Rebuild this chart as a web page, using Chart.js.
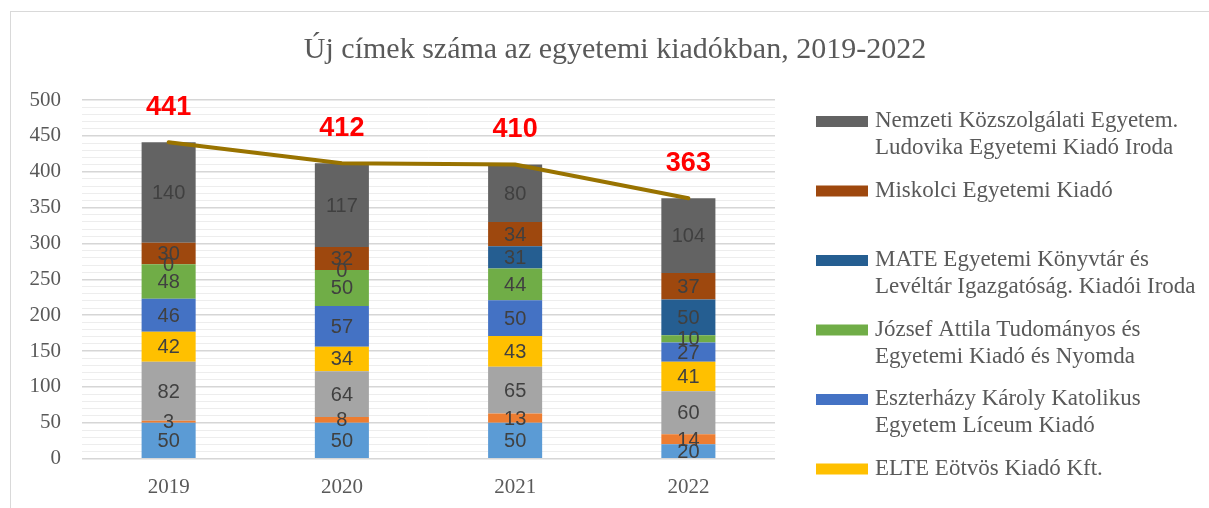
<!DOCTYPE html>
<html><head><meta charset="utf-8">
<script src="https://cdn.jsdelivr.net/npm/chart.js@4"></script>
<style>html,body{margin:0;padding:0;background:#fff}#wrap{position:relative;width:1209px;height:508px}</style>
</head><body><div id="wrap"><canvas id="c" width="1209" height="508"></canvas></div>
<script>
const chartTitle = 'Új címek száma az egyetemi kiadókban, 2019-2022';
const years = ['2019', '2020', '2021', '2022'];
const yTickLabels = [0, 50, 100, 150, 200, 250, 300, 350, 400, 450, 500];

// series, bottom of the stack first
const seriesNames = [
  'Kiadó 1',
  'Kiadó 2',
  'Kiadó 3',
  'ELTE Eötvös Kiadó Kft.',
  'Eszterházy Károly Katolikus Egyetem Líceum Kiadó',
  'József Attila Tudományos és Egyetemi Kiadó és Nyomda',
  'MATE Egyetemi Könyvtár és Levéltár Igazgatóság. Kiadói Iroda',
  'Miskolci Egyetemi Kiadó',
  'Nemzeti Közszolgálati Egyetem. Ludovika Egyetemi Kiadó Iroda'
];
const kiado1 = [50, 50, 50, 20];
const kiado2 = [3, 8, 13, 14];
const kiado3 = [82, 64, 65, 60];
const elte = [42, 34, 43, 41];
const eszterhazy = [46, 57, 50, 27];
const jozsefAttila = [48, 50, 44, 10];
const mate = [0, 0, 31, 50];
const miskolci = [30, 32, 34, 37];
const nke = [140, 117, 80, 104];
const totals = [441, 412, 410, 363];
const totalName = 'Összesen';

const seriesValues = [kiado1, kiado2, kiado3, elte, eszterhazy, jozsefAttila, mate, miskolci, nke];
const seriesColors = ['#5B9BD5', '#ED7D31', '#A5A5A5', '#FFC000', '#4472C4', '#70AD47', '#255E91', '#9E480E', '#636363'];

const datasets = seriesValues.map((vals, i) => ({
  type: 'bar',
  label: seriesNames[i],
  data: vals,
  backgroundColor: seriesColors[i],
  borderWidth: 0,
  barPercentage: 0.312,
  categoryPercentage: 1.0,
  order: 1
}));
datasets.push({
  type: 'line',
  label: totalName,
  data: totals,
  borderColor: '#997300',
  backgroundColor: '#997300',
  borderWidth: 4,
  borderCapStyle: 'round',
  pointRadius: 0,
  tension: 0,
  stack: 'total',
  order: 0
});

function wrapText(ctx, text, maxW) {
  const words = text.split(' ');
  const lines = [];
  let cur = '';
  words.forEach(w => {
    const t = cur ? cur + ' ' + w : w;
    if (ctx.measureText(t).width > maxW && cur) { lines.push(cur); cur = w; }
    else cur = t;
  });
  if (cur) lines.push(cur);
  return lines;
}

const deco = {
  id: 'deco',
  beforeDraw(chart) {
    const ctx = chart.ctx;
    ctx.save();
    ctx.fillStyle = '#ffffff';
    ctx.fillRect(0, 0, chart.width, chart.height);
    ctx.strokeStyle = '#d9d9d9';
    ctx.lineWidth = 1;
    ctx.strokeRect(10.5, 11.5, chart.width + 50, chart.height + 50);
    ctx.fillStyle = '#595959';
    ctx.font = '30px "Liberation Serif"';
    ctx.textAlign = 'center';
    ctx.textBaseline = 'alphabetic';
    ctx.fillText(chartTitle, 615, 58);
    ctx.restore();
  },
  afterDatasetsDraw(chart) {
    const ctx = chart.ctx;
    ctx.save();
    ctx.textAlign = 'center';
    ctx.textBaseline = 'middle';
    chart.data.datasets.forEach((ds, i) => {
      const meta = chart.getDatasetMeta(i);
      if (ds.type === 'line') {
        ctx.font = 'bold 27px "Liberation Sans"';
        ctx.fillStyle = '#FF0000';
        meta.data.forEach((pt, j) => ctx.fillText(String(ds.data[j]), pt.x, pt.y - 35));
      } else {
        ctx.font = '20px "Liberation Sans"';
        ctx.fillStyle = '#404040';
        meta.data.forEach((bar, j) => {
          const p = bar.getProps(['x', 'y', 'base'], true);
          ctx.fillText(String(ds.data[j]), p.x, (p.y + p.base) / 2 + 1);
        });
      }
    });
    ctx.restore();
  },
  afterDraw(chart) {
    const ctx = chart.ctx;
    ctx.save();
    ctx.font = '23px "Liberation Serif"';
    ctx.textAlign = 'left';
    ctx.textBaseline = 'alphabetic';
    const bars = chart.data.datasets.filter(d => d.type === 'bar').slice().reverse();
    bars.forEach((ds, k) => {
      const by = 127 + k * 69.5;
      ctx.fillStyle = ds.backgroundColor;
      ctx.fillRect(816, by - 11, 52, 11);
      ctx.fillStyle = '#595959';
      wrapText(ctx, ds.label, 335).forEach((ln, li) => ctx.fillText(ln, 875, by + li * 27));
    });
    ctx.restore();
  }
};

new Chart(document.getElementById('c'), {
  type: 'bar',
  data: { labels: years, datasets },
  plugins: [deco],
  options: {
    responsive: false,
    devicePixelRatio: 1,
    animation: false,
    layout: { padding: { top: 100, right: 434, bottom: 0, left: 0 } },
    plugins: { legend: { display: false }, title: { display: false }, tooltip: { enabled: false } },
    scales: {
      x: {
        stacked: true,
        grid: { display: false, drawTicks: false },
        border: { display: false },
        ticks: { color: '#595959', font: { family: 'Liberation Serif', size: 21 }, padding: 16 },
        afterFit(s) { s.height = 49.3; }
      },
      y: {
        stacked: true,
        min: 0,
        max: 500,
        border: { display: false },
        grid: {
          drawTicks: false,
          color: c => (c.tick && yTickLabels.includes(c.tick.value)) ? '#d6d6d6' : '#ededed',
          lineWidth: c => (c.tick && yTickLabels.includes(c.tick.value)) ? 1.5 : 1
        },
        ticks: {
          stepSize: 10,
          autoSkip: false,
          padding: 21,
          color: '#595959',
          font: { family: 'Liberation Serif', size: 21 },
          callback: v => yTickLabels.includes(v) ? String(v) : ''
        },
        afterFit(s) { s.width = 82; }
      }
    }
  }
});
</script>
</body></html>
